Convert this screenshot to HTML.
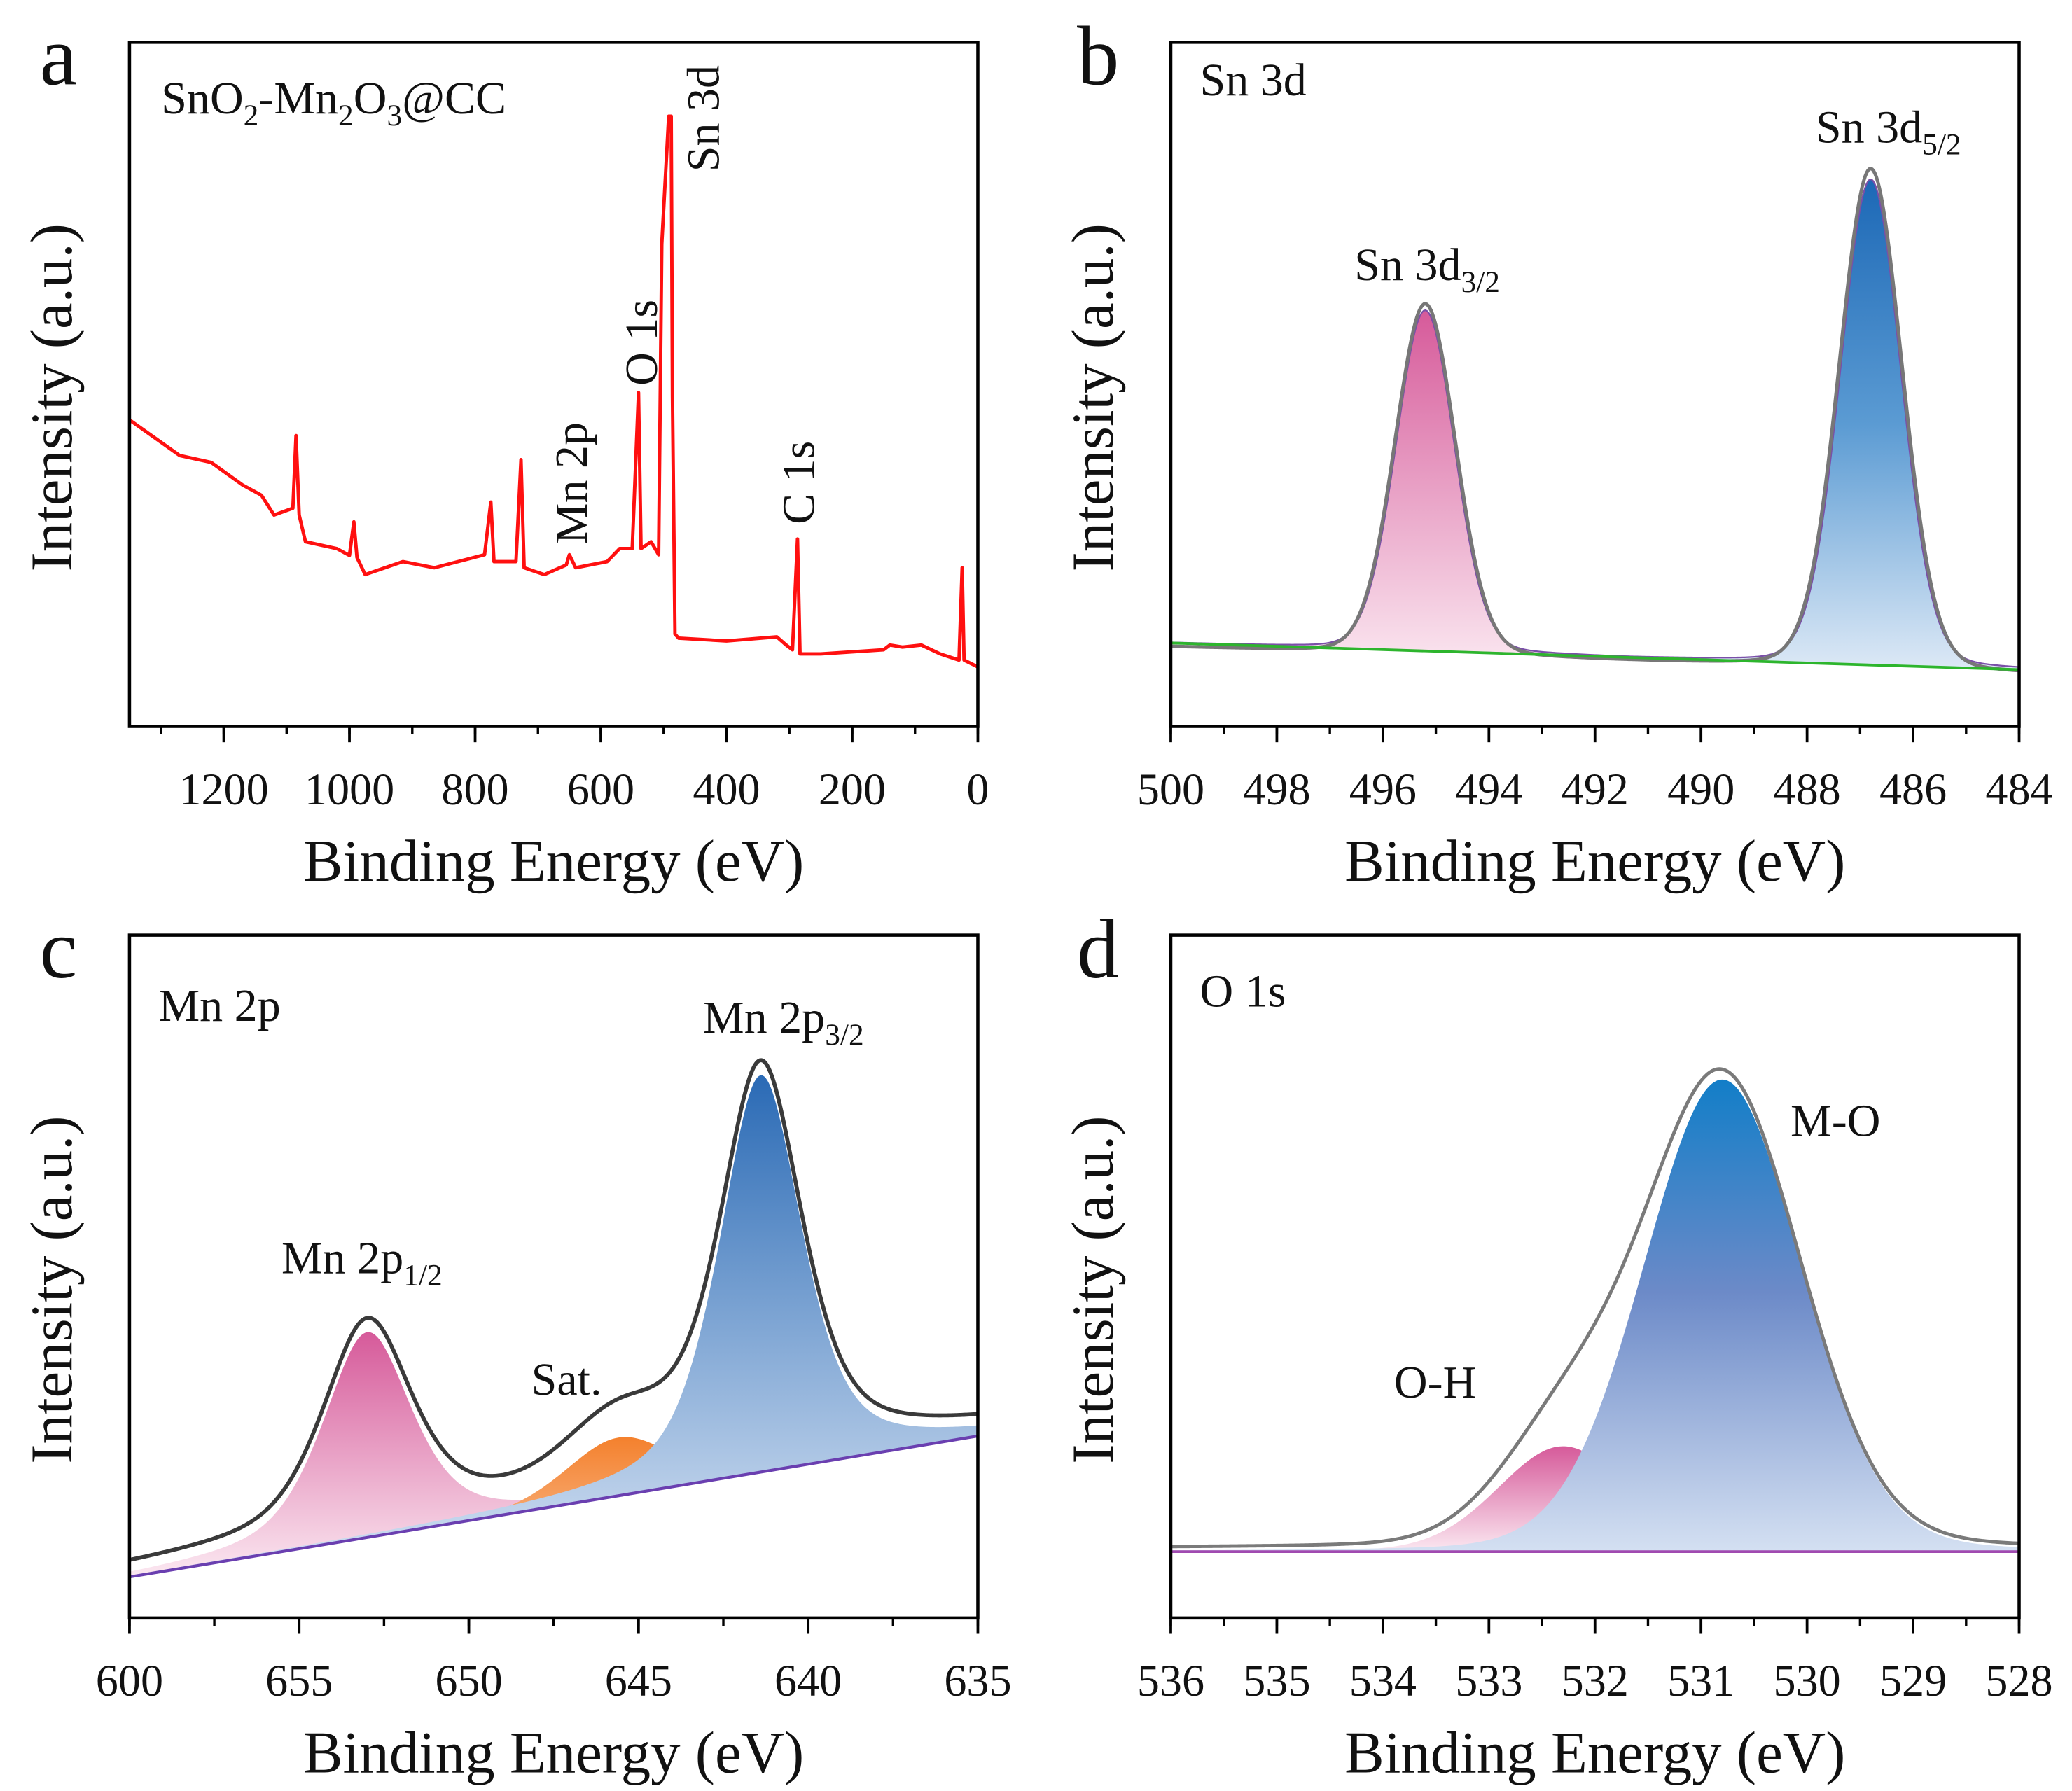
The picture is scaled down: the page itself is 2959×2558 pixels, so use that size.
<!DOCTYPE html>
<html><head><meta charset="utf-8"><style>
html,body{margin:0;padding:0;background:#fff}
svg{display:block}
text{font-family:"Liberation Serif",serif;fill:#111}
</style></head><body>
<svg id="fig" width="2959" height="2558" viewBox="0 0 1568 1356" preserveAspectRatio="none" xmlns="http://www.w3.org/2000/svg">
<defs>
<linearGradient id="gPink" x1="0" y1="0" x2="0" y2="1"><stop offset="0" stop-color="#d65a9a"/><stop offset="1" stop-color="#fbe8f1"/></linearGradient>
<linearGradient id="gBlue" x1="0" y1="0" x2="0" y2="1"><stop offset="0" stop-color="#1c68b6"/><stop offset="0.5" stop-color="#5b9bd3"/><stop offset="1" stop-color="#dde9f6"/></linearGradient>
<linearGradient id="gBlueC" x1="0" y1="0" x2="0" y2="1"><stop offset="0" stop-color="#2a6ab5"/><stop offset="1" stop-color="#d5e2f3"/></linearGradient>
<linearGradient id="gMO" x1="0" y1="0" x2="0" y2="1"><stop offset="0" stop-color="#127ec8"/><stop offset="0.45" stop-color="#6c8ac8"/><stop offset="1" stop-color="#d4e0f2"/></linearGradient>
<linearGradient id="gOrange" x1="0" y1="0" x2="0" y2="1"><stop offset="0" stop-color="#f4802c"/><stop offset="1" stop-color="#f9c6a0"/></linearGradient>
</defs>
<g id="root"></g>
</svg>
<script>
// ---------- data ----------
const surveyBE = [1350,1270,1220,1170,1140,1120,1090,1085,1080,1070,1020,1000,993,988,975,915,865,785,775,770,735,727,722,690,655,650,640,590,570,550,540,536,520,508,503,492,488,486,482,476,400,320,305,295,287,283,250,150,140,120,90,60,30,25,22,0];
const surveyI  = [44.8,39.6,38.6,35.3,33.8,30.9,31.9,42.5,30.9,27,26,25,29.9,24.7,22.2,24.1,23.2,25.1,32.8,24.1,24.1,39,23.2,22.2,23.6,25.1,23.2,24.1,26,26,48.8,26,27,25.1,70.5,89.2,89.2,48.3,13.5,12.9,12.5,13.1,11.9,11.2,27.4,10.6,10.6,11.2,11.9,11.6,11.9,10.6,9.7,23.2,9.7,8.7];
const aTicks = [1200,1000,800,600,400,200,0];
// panel b
const bBase = [12.2, 8.3];
const bCenters = [495.2, 486.8];
const bHeights = [49.8, 71];
const bFwhm = [1.3, 1.35];
const bTicks = [500,498,496,494,492,490,488,486,484];
// panel c
const cBase = [6, 26.6];
const cCenters = [653.0, 645.6, 641.4];
const cHeights = [30, 8.5, 58];
const cFwhm = [3.1, 3.6, 2.9];
const cTickPos = [660,655,650,645,640,635];
const cTickLabels = ["600","655","650","645","640","635"];
// panel d
const dBase = [9.7, 9.7];
const dCenters = [532.3, 530.8];
const dHeights = [15.4, 69];
const dFwhm = [1.45, 1.75];
const dTicks = [536,535,534,533,532,531,530,529,528];

// ---------- helpers ----------
const NS="http://www.w3.org/2000/svg";
const root=document.getElementById('root');
function el(tag,attrs,parent){const e=document.createElementNS(NS,tag);for(const k in attrs)e.setAttribute(k,attrs[k]);(parent||root).appendChild(e);return e;}
function mkAxis(x0,x1,y0,y1,lo,hi){
  return {x:v=>x0+(v-lo)/(hi-lo)*(x1-x0), y:v=>y1-v*5.18, x0,x1,y0,y1,lo,hi};
}
function pv(x,c,h,w,eta){const d=(x-c)/w;return h*((1-eta)*Math.exp(-4*Math.LN2*d*d)+eta/(1+4*d*d));}
function baseAt(ax,base,e){return base[0]+(base[1]-base[0])*(e-ax.lo)/(ax.hi-ax.lo);}
function frame(ax,name){
  const r=el('rect',{x:ax.x0,y:ax.y0,width:ax.x1-ax.x0,height:ax.y1-ax.y0,fill:'none',stroke:'#000','stroke-width':2.4});
  
}
function ticks(ax,vals,labels,minorStep,name){
  const g=el('g',{});
  vals.forEach((v,i)=>{const X=ax.x(v);el('line',{x1:X,x2:X,y1:ax.y1,y2:ax.y1+12,stroke:'#000','stroke-width':2},g);
    const t=el('text',{x:X,y:ax.y1+59,'font-size':34,'text-anchor':'middle'},g);t.textContent=labels[i];
    });
  const a=Math.min(ax.lo,ax.hi),b=Math.max(ax.lo,ax.hi);
  for(let v=Math.ceil(a/minorStep)*minorStep;v<=b+1e-9;v+=minorStep){const X=ax.x(v);
    el('line',{x1:X,x2:X,y1:ax.y1,y2:ax.y1+6,stroke:'#000','stroke-width':1.8},g);}
  const tt=el('text',{x:(ax.x0+ax.x1)/2,y:ax.y1+117,'font-size':45,'text-anchor':'middle'},g);
  tt.textContent='Binding Energy (eV)';
  const yt=el('text',{x:0,y:0,'font-size':45,'text-anchor':'middle',transform:`translate(${ax.x0-44},${(ax.y0+ax.y1)/2+10}) rotate(-90)`});
  yt.textContent='Intensity (a.u.)';
}
function txt(x,y,s,size,name,rot){const t=el('text',{x:rot?0:x,y:rot?0:y,'font-size':size});
  if(rot)t.setAttribute('transform',`translate(${x},${y}) rotate(-90)`);
  t.innerHTML=s;return t;}
function pathOf(ax,es,f){return es.map((e,i)=>(i?'L':'M')+ax.x(e).toFixed(2)+','+ax.y(f(e)).toFixed(2)).join('');}
function range(a,b,n){const r=[];for(let i=0;i<=n;i++)r.push(a+(b-a)*i/n);return r;}
function fillPeak(ax,base,c,h,w,eta,fill,stroke,name){
  const es=range(ax.lo,ax.hi,500);
  const top=pathOf(ax,es,e=>baseAt(ax,base,e)+pv(e,c,h,w,eta));
  const back=es.slice().reverse().map(e=>'L'+ax.x(e).toFixed(2)+','+ax.y(baseAt(ax,base,e)).toFixed(2)).join('');
  const p=el('path',{d:top+back+'Z',fill:fill,stroke:stroke||'none','stroke-width':1.2});
  
}
function letter(x,y,s){txt(x,y,s,64,'panel-label-'+s);}
const sub=s=>`<tspan font-size="23" dy="9">${s}</tspan>`;

// ---------- panel a ----------
const A=mkAxis(98,740,32,550,1350,0);
const sp=el('path',{d:surveyBE.map((e,i)=>(i?'L':'M')+A.x(e).toFixed(2)+','+A.y(surveyI[i]).toFixed(2)).join(''),fill:'none',stroke:'#ff1010','stroke-width':2.6,'stroke-linejoin':'round'});

frame(A,'panel-a');ticks(A,aTicks,aTicks.map(String),100,'panel-a');
letter(30,64,'a');
txt(122,86,'SnO'+sub(2)+'<tspan dy="-9">-Mn</tspan>'+sub(2)+'<tspan dy="-9">O</tspan>'+sub(3)+'<tspan dy="-9">@CC</tspan>',35,'sample-name');
txt(544,130,'Sn 3d',35,'label-sn3d',true);
txt(497,292,'O 1s',35,'label-o1s',true);
txt(444,412,'Mn 2p',35,'label-mn2p',true);
txt(616,397,'C 1s',35,'label-c1s',true);

// ---------- panel b ----------
const B=mkAxis(886,1528,32,550,500,484);
fillPeak(B,bBase,bCenters[0],bHeights[0],bFwhm[0],0.1,'url(#gPink)','#7a4fa8','peak-sn3d32');
fillPeak(B,bBase,bCenters[1],bHeights[1],bFwhm[1],0.1,'url(#gBlue)','#7a4fa8','peak-sn3d52');
(function(){const es=range(500,484,600);
 const p=el('path',{d:pathOf(B,es,e=>baseAt(B,bBase,e)-0.6+bCenters.reduce((s,c,i)=>s+pv(e,c,bHeights[i]*1.03,bFwhm[i]*1.04,0.1),0)),fill:'none',stroke:'#777','stroke-width':2.6});
 
 const bl=el('line',{x1:B.x(500),y1:B.y(bBase[0]),x2:B.x(484),y2:B.y(bBase[1]),stroke:'#2db52d','stroke-width':2});
 })();
frame(B,'panel-b');ticks(B,bTicks,bTicks.map(String),1,'panel-b');
letter(815,64,'b');
txt(908,72,'Sn 3d',35,'panel-b-title');
txt(1025,212,'Sn 3d'+sub('3/2'),35,'label-sn3d32');
txt(1374,108,'Sn 3d'+sub('5/2'),35,'label-sn3d52');

// ---------- panel c ----------
const C=mkAxis(98,740,708,1225,660,635);
(function(){
 const eta=0.55;
 fillPeak(C,cBase,cCenters[0],cHeights[0],cFwhm[0],eta,'url(#gPink)',null,'peak-mn2p12');
 fillPeak(C,cBase,cCenters[1],cHeights[1],cFwhm[1],0.2,'url(#gOrange)',null,'peak-satellite');
 fillPeak(C,cBase,cCenters[2],cHeights[2],cFwhm[2],eta,'url(#gBlueC)',null,'peak-mn2p32');
 const es=range(660,635,600);
 const env=el('path',{d:pathOf(C,es,e=>baseAt(C,cBase,e)+1.5+cCenters.reduce((s,c,i)=>s+pv(e,c,cHeights[i],cFwhm[i],i==1?0.2:eta),0)),fill:'none',stroke:'#3a3a3a','stroke-width':3});
 
 const bl=el('line',{x1:C.x(660),y1:C.y(cBase[0]),x2:C.x(635),y2:C.y(cBase[1]),stroke:'#6a3fb0','stroke-width':2.2});
 
})();
frame(C,'panel-c');ticks(C,cTickPos,cTickLabels,2.5,'panel-c');
letter(30,740,'c');
txt(120,773,'Mn 2p',35,'panel-c-title');
txt(213,964,'Mn 2p'+sub('1/2'),35,'label-mn2p12');
txt(532,782,'Mn 2p'+sub('3/2'),35,'label-mn2p32');
txt(402,1056,'Sat.',35,'label-sat');

// ---------- panel d ----------
const D=mkAxis(886,1528,708,1225,536,528);
fillPeak(D,dBase,dCenters[0],dHeights[0],dFwhm[0],0.1,'url(#gPink)',null,'peak-oh');
fillPeak(D,dBase,dCenters[1],dHeights[1],dFwhm[1],0.1,'url(#gMO)',null,'peak-mo');
(function(){const es=range(536,528,600);
 const env=el('path',{d:pathOf(D,es,e=>baseAt(D,dBase,e)+0.5+dCenters.reduce((s,c,i)=>s+pv(e,c,dHeights[i],dFwhm[i],0.1),0)),fill:'none',stroke:'#7a7a7a','stroke-width':2.6});
 
 const bl=el('line',{x1:D.x(536),y1:D.y(dBase[0]),x2:D.x(528),y2:D.y(dBase[1]),stroke:'#a04ab0','stroke-width':2});
 })();
frame(D,'panel-d');ticks(D,dTicks,dTicks.map(String),0.5,'panel-d');
letter(815,740,'d');
txt(908,762,'O 1s',35,'panel-d-title');
txt(1055,1058,'O-H',35,'label-oh');
txt(1355,860,'M-O',35,'label-mo');
</script>
</body></html>
